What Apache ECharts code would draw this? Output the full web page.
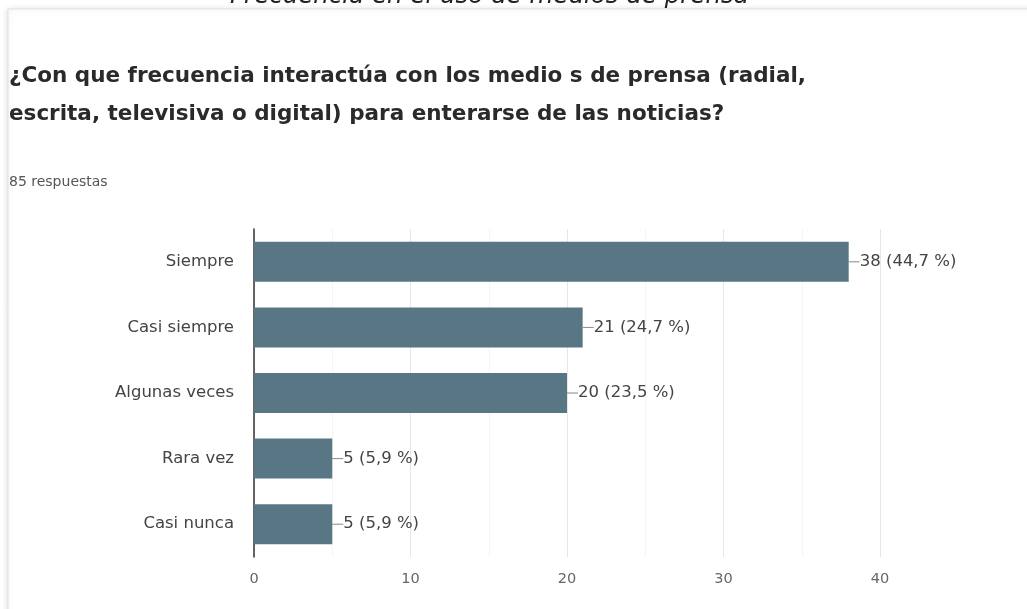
<!DOCTYPE html>
<html><head><meta charset="utf-8">
<script src="https://cdn.jsdelivr.net/npm/echarts@6/dist/echarts.min.js"></script>
<style>html,body{margin:0;padding:0;background:#fff}#c{width:1027px;height:609px}</style>
</head><body><div id="c"></div>
<script>
const categories = ["Siempre", "Casi siempre", "Algunas veces", "Rara vez", "Casi nunca"];
const counts = [38, 21, 20, 5, 5];
const percents = ["44,7", "24,7", "23,5", "5,9", "5,9"];
const xTicks = [0, 10, 20, 30, 40];

const F = '"DejaVu Sans", Verdana, sans-serif';
const chart = echarts.init(document.getElementById('c'));
chart.setOption({
  backgroundColor: '#fff',
  animation: false,
  graphic: [
    {type:'rect', shape:{x:8,y:9,width:1030,height:620}, style:{fill:'#fff', stroke:'#e0e0e0', lineWidth:1, shadowBlur:6, shadowOffsetY:1, shadowColor:'rgba(0,0,0,0.15)'}, z:-10},
    {type:'text', left:230, top:-16, style:{text:'Frecuencia en el uso de medios de prensa', font:'oblique 24.5px ' + F, fill:'#222'}},
    {type:'text', left:9, top:57, style:{text:'¿Con que frecuencia interactúa con los medio s de prensa (radial,\nescrita, televisiva o digital) para enterarse de las noticias?', font:'bold 21.5px ' + F, fill:'#2a2a2a', lineHeight:38}},
    {type:'text', left:9, top:175, style:{text:'85 respuestas', font:'14px ' + F, fill:'#555'}}
  ],
  grid: {left: 254, right: 147, top: 229, bottom: 52, containLabel: false},
  xAxis: {
    type: 'value', min: 0, max: 40, interval: 10,
    axisLine: {show: false}, axisTick: {show: false},
    axisLabel: {color: '#666', fontSize: 14.5, fontFamily: F, margin: 15},
    splitLine: {lineStyle: {color: '#e6e6e6'}},
    minorTick: {show: false, splitNumber: 2},
    minorSplitLine: {show: true, lineStyle: {color: '#f5f5f5'}}
  },
  yAxis: {
    type: 'category', data: categories, inverse: true,
    axisLine: {show: true, lineStyle: {color: '#333', width: 1.5}},
    axisTick: {show: false},
    axisLabel: {color: '#444', fontSize: 16.5, fontFamily: F, margin: 20}
  },
  series: [{
    type: 'bar',
    data: counts,
    barWidth: '61%',
    itemStyle: {color: '#587683'},
    label: {
      show: true, position: 'right', distance: 0,
      formatter: p => '{l|}' + counts[p.dataIndex] + ' (' + percents[p.dataIndex] + ' %)',
      color: '#444', fontSize: 16.5, fontFamily: F,
      rich: {l: {width: 11, height: 1, backgroundColor: '#888'}}
    }
  }]
});
</script></body></html>
